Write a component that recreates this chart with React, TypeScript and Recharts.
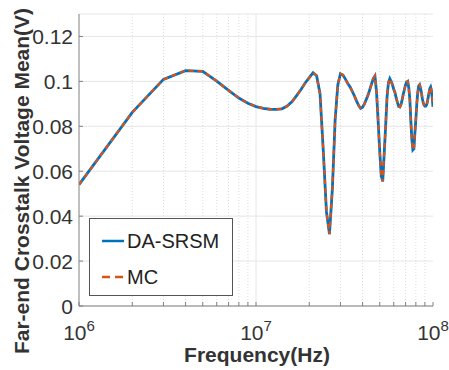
import React from 'react';
import { LineChart, Line, XAxis, YAxis, CartesianGrid, ReferenceLine, Legend } from 'recharts';

// frequency samples (MHz) and mean far-end crosstalk voltage (V)
const freqMHz = [
  1, 2, 3, 4, 5, 6, 7, 8, 9, 10,
  11, 12, 13, 14, 15, 16, 17, 18, 19, 20,
  21, 22, 23, 24, 25, 26, 27, 28, 29, 30,
  31, 32, 33, 34, 35, 36, 37, 38, 39, 40,
  41, 42, 43, 44, 45, 46, 47, 48, 49, 50,
  51, 52, 53, 54, 55, 56, 57, 58, 59, 60,
  61, 62, 63, 64, 65, 66, 67, 68, 69, 70,
  71, 72, 73, 74, 75, 76, 77, 78, 79, 80,
  81, 82, 83, 84, 85, 86, 87, 88, 89, 90,
  91, 92, 93, 94, 95, 96, 97, 98, 99, 100,
];

const daSrsmMean = [
  0.054, 0.0862, 0.1009, 0.1048, 0.1045, 0.1001, 0.096, 0.0926, 0.0903, 0.0888,
  0.088, 0.0876, 0.0875, 0.0878, 0.089, 0.091, 0.0938, 0.0965, 0.0994, 0.1017,
  0.1038, 0.1025, 0.0945, 0.069, 0.042, 0.032, 0.052, 0.083, 0.0985, 0.1034,
  0.1028, 0.101, 0.099, 0.0975, 0.0955, 0.0935, 0.0912, 0.0893, 0.088, 0.0885,
  0.09, 0.092, 0.094, 0.0965, 0.099, 0.1012, 0.1024, 0.095, 0.082, 0.069,
  0.058, 0.0555, 0.068, 0.08, 0.093, 0.0995, 0.1012, 0.1, 0.0985, 0.0965,
  0.095, 0.0925, 0.0905, 0.0888, 0.0886, 0.0898, 0.092, 0.0945, 0.0965, 0.0985,
  0.0997, 0.1, 0.097, 0.092, 0.082, 0.074, 0.0695, 0.07, 0.077, 0.083,
  0.09, 0.095, 0.098, 0.0985, 0.097, 0.095, 0.0925, 0.0905, 0.0895, 0.089,
  0.089, 0.0895, 0.091, 0.093, 0.095, 0.0968, 0.0975, 0.096, 0.0925, 0.0886,
];

// MC curve sits on top of DA-SRSM everywhere in the picture
const mcMean = [
  0.054, 0.0862, 0.1009, 0.1048, 0.1045, 0.1001, 0.096, 0.0926, 0.0903, 0.0888,
  0.088, 0.0876, 0.0875, 0.0878, 0.089, 0.091, 0.0938, 0.0965, 0.0994, 0.1017,
  0.1038, 0.1025, 0.0945, 0.069, 0.042, 0.032, 0.052, 0.083, 0.0985, 0.1034,
  0.1028, 0.101, 0.099, 0.0975, 0.0955, 0.0935, 0.0912, 0.0893, 0.088, 0.0885,
  0.09, 0.092, 0.094, 0.0965, 0.099, 0.1012, 0.1024, 0.095, 0.082, 0.069,
  0.058, 0.0555, 0.068, 0.08, 0.093, 0.0995, 0.1012, 0.1, 0.0985, 0.0965,
  0.095, 0.0925, 0.0905, 0.0888, 0.0886, 0.0898, 0.092, 0.0945, 0.0965, 0.0985,
  0.0997, 0.1, 0.097, 0.092, 0.082, 0.074, 0.0695, 0.07, 0.077, 0.083,
  0.09, 0.095, 0.098, 0.0985, 0.097, 0.095, 0.0925, 0.0905, 0.0895, 0.089,
  0.089, 0.0895, 0.091, 0.093, 0.095, 0.0968, 0.0975, 0.096, 0.0925, 0.0886,
];

const xTicks = [
  1e6, 2e6, 3e6, 4e6, 5e6, 6e6, 7e6, 8e6, 9e6,
  1e7, 2e7, 3e7, 4e7, 5e7, 6e7, 7e7, 8e7, 9e7,
  1e8,
];
const xMajor = [1e6, 1e7, 1e8];
const yTicks = [0, 0.02, 0.04, 0.06, 0.08, 0.1, 0.12];

const BLUE = '#0072BD';
const ORANGE = '#D95319';
const AXIS = '#808080';
const TEXT = '#333333';
const FONT = '"Liberation Sans", Arial, Helvetica, sans-serif';

const data = freqMHz.map((f, i) => ({ f: f * 1e6, da: daSrsmMean[i], mc: mcMean[i] }));

const isMajor = (v: number) => xMajor.indexOf(v) >= 0;

const BottomTick = (props: any) => {
  const { x, y, payload } = props;
  const v = payload.value;
  return (
    <g>
      <line x1={x} y1={y} x2={x} y2={y - 4} stroke={AXIS} />
      {isMajor(v) && (
        <text x={x} y={y + 34} textAnchor="middle" fontSize={21} fill={TEXT} fontFamily={FONT}>
          10
          <tspan dy={-9} fontSize={15}>{Math.round(Math.log10(v))}</tspan>
        </text>
      )}
    </g>
  );
};

const TopTick = (props: any) => {
  const { x, y } = props;
  return <line x1={x} y1={y} x2={x} y2={y + 4} stroke={AXIS} />;
};

const LeftTick = (props: any) => {
  const { x, y, payload } = props;
  return (
    <g>
      <line x1={x} y1={y} x2={x + 4} y2={y} stroke={AXIS} />
      <text x={x - 6} y={y} dy="0.36em" textAnchor="end" fontSize={21} fill={TEXT} fontFamily={FONT}>
        {String(Number(payload.value.toFixed(2)))}
      </text>
    </g>
  );
};

const RightTick = (props: any) => {
  const { x, y } = props;
  return <line x1={x} y1={y} x2={x - 4} y2={y} stroke={AXIS} />;
};

const yTitle = () => (
  <text
    x={21}
    y={181}
    transform="rotate(-90 21 181)"
    textAnchor="middle"
    dy="0.36em"
    fontSize={21}
    fontWeight="bold"
    fill={TEXT}
    fontFamily={FONT}
  >
    Far-end Crosstalk Voltage Mean(V)
  </text>
);

const xTitle = () => (
  <text x={257} y={362} textAnchor="middle" fontSize={21} fontWeight="bold" fill={TEXT} fontFamily={FONT}>
    Frequency(Hz)
  </text>
);

const legendItems = [
  { name: 'DA-SRSM', color: BLUE, dash: undefined as string | undefined },
  { name: 'MC', color: ORANGE, dash: '8 5' },
];

const renderLegend = () => (
  <div
    style={{
      width: 144,
      height: 78,
      boxSizing: 'border-box',
      border: '1px solid #555',
      background: '#fff',
      fontFamily: FONT,
      fontSize: 20,
      color: '#222',
      position: 'relative',
    }}
  >
    {legendItems.map((it, i) => (
      <div key={it.name} style={{ position: 'absolute', left: 12, top: 10 + i * 36, height: 24, display: 'flex', alignItems: 'center' }}>
        <svg width={23} height={24} style={{ display: 'block' }}>
          <line x1={0} y1={12} x2={22} y2={12} stroke={it.color} strokeWidth={2.5} strokeDasharray={it.dash} />
        </svg>
        <span style={{ marginLeft: 2, lineHeight: '24px' }}>{it.name}</span>
      </div>
    ))}
  </div>
);

export default function App() {
  return (
    <div style={{ position: 'absolute', left: 0, top: 0, width: 449, height: 370, background: '#fff' }}>
      <LineChart width={449} height={370} data={data} margin={{ top: 14, right: 16, bottom: 0, left: 0 }}>
        <CartesianGrid horizontal vertical={false} stroke="#e6e6e6" />
        {xTicks
          .filter((v) => v !== 1e6 && v !== 1e8)
          .map((v) => (
            <ReferenceLine
              key={v}
              x={v}
              stroke={isMajor(v) ? '#e6e6e6' : '#dcdcdc'}
              strokeDasharray={isMajor(v) ? undefined : '1 2'}
            />
          ))}
        <XAxis
          dataKey="f"
          type="number"
          scale="log"
          domain={[1e6, 1e8]}
          allowDataOverflow
          ticks={xTicks}
          interval={0}
          tick={BottomTick}
          tickLine={false}
          tickSize={0}
          tickMargin={0}
          height={64}
          axisLine={{ stroke: AXIS }}
          label={xTitle}
        />
        <XAxis
          xAxisId="top"
          orientation="top"
          dataKey="f"
          type="number"
          scale="log"
          domain={[1e6, 1e8]}
          allowDataOverflow
          ticks={xTicks}
          interval={0}
          tick={TopTick}
          tickLine={false}
          tickSize={0}
          tickMargin={0}
          height={0}
          axisLine={{ stroke: AXIS }}
        />
        <YAxis
          type="number"
          domain={[0, 0.13]}
          allowDataOverflow
          ticks={yTicks}
          interval={0}
          tick={LeftTick}
          tickLine={false}
          tickSize={0}
          tickMargin={0}
          width={79}
          axisLine={{ stroke: AXIS }}
          label={yTitle}
        />
        <YAxis
          yAxisId="right"
          orientation="right"
          type="number"
          domain={[0, 0.13]}
          allowDataOverflow
          ticks={yTicks}
          interval={0}
          tick={RightTick}
          tickLine={false}
          tickSize={0}
          tickMargin={0}
          width={0}
          axisLine={{ stroke: AXIS }}
        />
        <Line
          dataKey="da"
          name="DA-SRSM"
          type="linear"
          stroke={BLUE}
          strokeWidth={2.8}
          dot={false}
          isAnimationActive={false}
        />
        <Line
          dataKey="mc"
          name="MC"
          type="linear"
          stroke={ORANGE}
          strokeWidth={2.2}
          strokeDasharray="5 4"
          dot={false}
          isAnimationActive={false}
        />
        <Legend
          layout="vertical"
          align="center"
          verticalAlign="middle"
          content={renderLegend}
          wrapperStyle={{ position: 'absolute', left: 89, top: 218, width: 144, height: 78 }}
        />
      </LineChart>
    </div>
  );
}
